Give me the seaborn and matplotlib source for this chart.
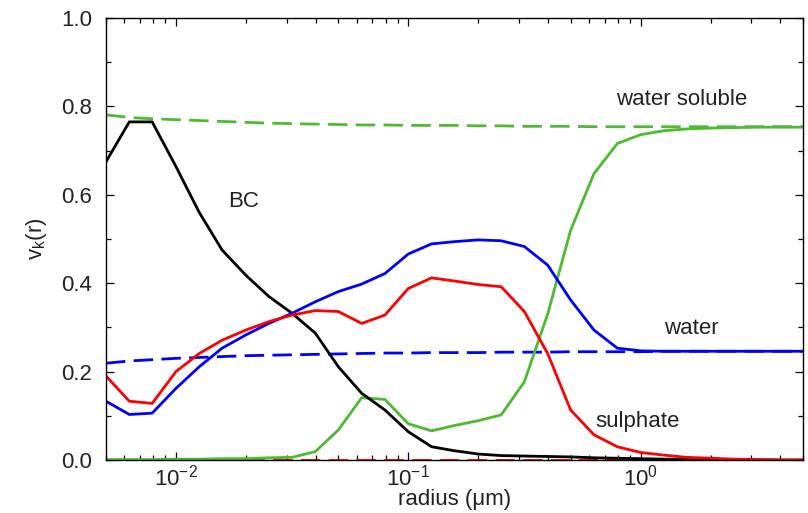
import numpy as np
import pandas as pd
import seaborn as sns
import matplotlib.pyplot as plt
from matplotlib.ticker import LogLocator, MultipleLocator

# radius grid (µm), 10 points per decade
radius = [0.005, 0.0063, 0.0079, 0.01, 0.0126, 0.0158, 0.02, 0.0251, 0.0316, 0.0398,
          0.05, 0.063, 0.0794, 0.1, 0.126, 0.158, 0.2, 0.251, 0.316, 0.398,
          0.5, 0.63, 0.794, 1.0, 1.26, 1.58, 2.0, 2.51, 3.16, 3.98, 5.0]

bc = [0.675, 0.765, 0.765, 0.664, 0.56, 0.475, 0.418, 0.37, 0.332, 0.287,
      0.211, 0.151, 0.113, 0.064, 0.030, 0.021, 0.0135, 0.010, 0.009, 0.008,
      0.007, 0.005, 0.004, 0.003, 0.002, 0.0015, 0.001, 0.001, 0.0005, 0.0, 0.0]

sulphate = [0.19, 0.133, 0.128, 0.20, 0.241, 0.271, 0.294, 0.313, 0.328, 0.338,
            0.336, 0.309, 0.328, 0.388, 0.412, 0.405, 0.397, 0.392, 0.336, 0.241,
            0.113, 0.057, 0.030, 0.017, 0.011, 0.006, 0.004, 0.002, 0.001, 0.0, 0.0]

water = [0.133, 0.103, 0.106, 0.162, 0.211, 0.253, 0.283, 0.309, 0.332, 0.358,
         0.381, 0.398, 0.422, 0.466, 0.489, 0.494, 0.498, 0.496, 0.483, 0.441,
         0.362, 0.294, 0.253, 0.247, 0.246, 0.246, 0.246, 0.246, 0.246, 0.246, 0.246]

water_total = [0.219, 0.224, 0.227, 0.230, 0.232, 0.234, 0.236, 0.237, 0.238, 0.239,
               0.240, 0.241, 0.242, 0.242, 0.243, 0.243, 0.243, 0.244, 0.244, 0.244,
               0.245, 0.245, 0.245, 0.245, 0.246, 0.246, 0.246, 0.246, 0.246, 0.246, 0.246]

soluble = [0.001, 0.001, 0.001, 0.002, 0.002, 0.003, 0.003, 0.005, 0.006, 0.019,
           0.068, 0.141, 0.137, 0.082, 0.066, 0.078, 0.089, 0.102, 0.177, 0.33,
           0.52, 0.648, 0.716, 0.736, 0.745, 0.749, 0.751, 0.752, 0.753, 0.753, 0.753]

soluble_total = [0.781, 0.775, 0.772, 0.770, 0.768, 0.766, 0.764, 0.762, 0.761, 0.760,
                 0.759, 0.758, 0.758, 0.757, 0.757, 0.757, 0.756, 0.756, 0.755, 0.755,
                 0.755, 0.754, 0.754, 0.754, 0.754, 0.754, 0.754, 0.754, 0.754, 0.754, 0.754]

sulphate_total = [0.0] * len(radius)

df = pd.DataFrame({"radius": radius, "bc": bc, "sulphate": sulphate, "water": water,
                   "water_total": water_total, "soluble": soluble,
                   "soluble_total": soluble_total, "sulphate_total": sulphate_total})

sns.set_theme(style="ticks")
plt.rcParams["font.family"] = ["Liberation Sans", "DejaVu Sans"]
plt.rcParams["mathtext.fontset"] = "custom"
plt.rcParams["mathtext.rm"] = "Liberation Sans"
plt.rcParams["mathtext.it"] = "Liberation Sans"

fig = plt.figure(figsize=(8.08, 5.13), dpi=100)
ax = fig.add_axes([0.1312, 0.1033, 0.8626, 0.8616])

green = "#4cbb2f"
dash = (7, 3)
lw = 2.0
fs = 16
tc = "#222222"

sns.lineplot(data=df, x="radius", y="sulphate_total", ax=ax, color="red", lw=lw)
ax.lines[-1].set_dashes(dash)
sns.lineplot(data=df, x="radius", y="soluble_total", ax=ax, color=green, lw=lw)
ax.lines[-1].set_dashes(dash)
sns.lineplot(data=df, x="radius", y="water_total", ax=ax, color="blue", lw=lw)
ax.lines[-1].set_dashes(dash)
sns.lineplot(data=df, x="radius", y="soluble", ax=ax, color=green, lw=lw)
sns.lineplot(data=df, x="radius", y="bc", ax=ax, color="black", lw=lw)
sns.lineplot(data=df, x="radius", y="water", ax=ax, color="blue", lw=lw)
sns.lineplot(data=df, x="radius", y="sulphate", ax=ax, color="red", lw=lw)

ax.set_xscale("log")
ax.set_xlim(0.005, 5)
ax.set_ylim(0, 1.0)
ax.xaxis.set_major_locator(LogLocator(base=10, numticks=10))
ax.xaxis.set_minor_locator(LogLocator(base=10, subs=np.arange(2, 10), numticks=20))
ax.yaxis.set_major_locator(MultipleLocator(0.2))
ax.yaxis.set_minor_locator(MultipleLocator(0.1))
ax.yaxis.set_major_formatter(plt.FormatStrFormatter("%.1f"))

for side in ["top", "right", "left", "bottom"]:
    ax.spines[side].set_visible(True)
    ax.spines[side].set_linewidth(1.0)
    ax.spines[side].set_color("black")
ax.tick_params(which="both", direction="in", top=True, right=True, color="black",
               labelsize=fs, labelcolor=tc, width=0.9)
ax.tick_params(which="major", length=6)
ax.tick_params(which="minor", length=3.5)
ax.tick_params(axis="y", pad=10)
ax.tick_params(axis="x", pad=3)

ax.set_xlabel("radius (μm)", fontsize=fs, color=tc, labelpad=-1)
ax.set_ylabel(r"v$_\mathregular{k}$(r)", fontsize=fs, color=tc, labelpad=9)

ax.text(0.0195, 0.585, "BC", fontsize=fs, color=tc, ha="center", va="center")
ax.text(1.5, 0.815, "water soluble", fontsize=fs, color=tc, ha="center", va="center")
ax.text(1.65, 0.297, "water", fontsize=fs, color=tc, ha="center", va="center")
ax.text(0.97, 0.087, "sulphate", fontsize=fs, color=tc, ha="center", va="center")

fig.savefig("out.png", dpi=100)
